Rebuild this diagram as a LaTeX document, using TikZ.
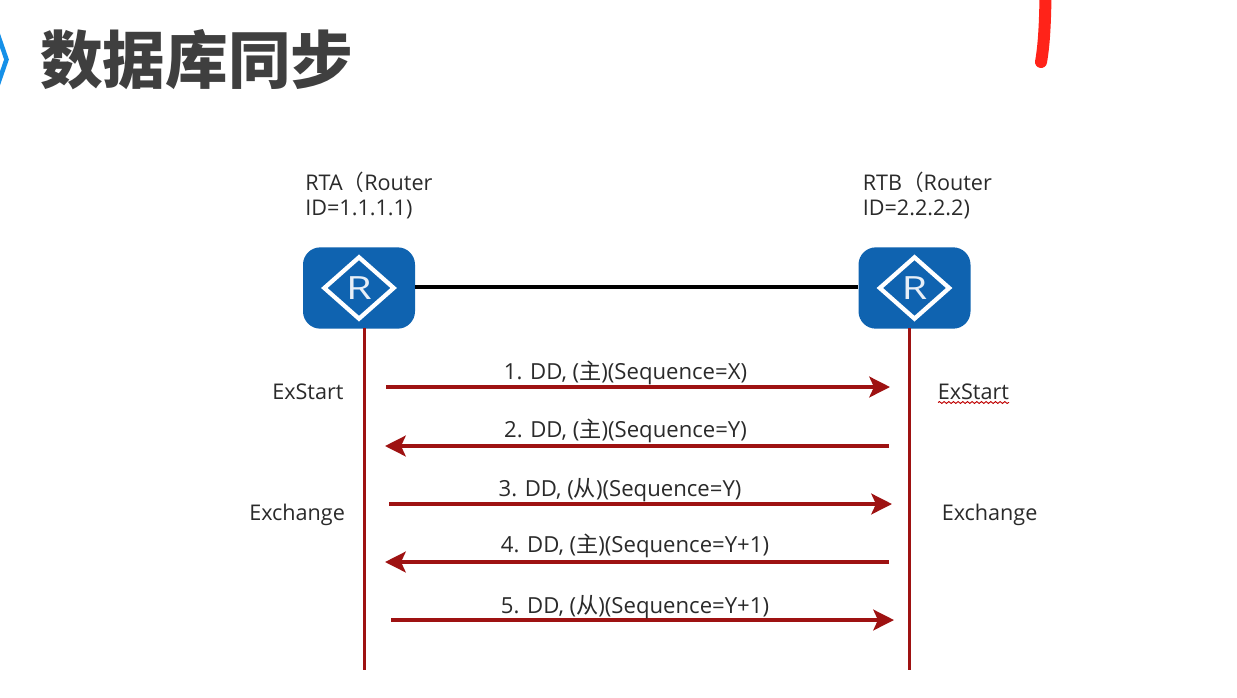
\documentclass[tikz,border=0pt]{standalone}
\usepackage{fontspec}
\setmainfont{Open Sans}
\newfontfamily\cjk{Noto Sans CJK SC}
\usetikzlibrary{arrows.meta,decorations.pathmorphing}
\definecolor{rblue}{HTML}{0F63B0}
\definecolor{dred}{HTML}{9E1212}
\definecolor{txt}{HTML}{2A2A2A}
\tikzset{
  router/.style={draw=none,fill=rblue,rounded corners=13,minimum width=84,minimum height=61,inner sep=0},
  label/.style={inner sep=0,text=txt,font=\fontsize{16.2}{19}\selectfont,anchor=base west,align=left},
  msg/.style={inner sep=0,text=txt,font=\fontsize{16.6}{18}\selectfont,anchor=base},
  life/.style={draw=dred,line width=2.9},
  msgarrow/.style={draw=dred,line width=2.8,-{Stealth[length=15.5,width=15.5,inset=3.5]}},
  link/.style={draw=black,line width=2.8},
}
\newcommand{\routericon}[1]{%
  \draw[white,line width=3.2] ([xshift=-26]#1.center) -- ([yshift=23]#1.center) -- ([xshift=26]#1.center) -- ([yshift=-23]#1.center) -- cycle;
  \node[inner sep=0,text=white!90!rblue,font=\fontsize{24}{24}\selectfont,xscale=1.3,transform shape] at (#1.center) {R};
}
\begin{document}
\begin{tikzpicture}[x=0.75pt,y=-0.75pt]
\useasboundingbox (0,0) rectangle (1237,697);
\fill[white] (0,0) rectangle (1237,697);
% title
\draw[draw={rgb,255:red,21;green,144;blue,232},line width=3.4,line join=miter] (-3,32) -- (6.5,59.5) -- (-3,87);
\node[inner sep=0,anchor=west,text=txt!90!white,font=\cjk\bfseries\fontsize{47}{50}\selectfont] (title) at (40,60) {数据库同步};
% red pen stroke
\draw[draw={rgb,255:red,255;green,35;blue,25},line width=9,line cap=round] (1045.5,-3) .. controls (1045,25) and (1044,45) .. (1041,62);
% routers
\node[router] (rta) at (359,288) {};
\node[router] (rtb) at (914.5,288) {};
\routericon{rta}
\routericon{rtb}
\draw[link] ([yshift=1]rta.east) -- ([yshift=1]rtb.west);
\node[label] (la) at (305,215.5) {RTA{\cjk （}Router\\ID=1.1.1.1)};
\node[label] (lb) at (862.5,215.5) {RTB{\cjk （}Router\\ID=2.2.2.2)};
% lifelines
\coordinate (aend) at (364.5,670);
\coordinate (bend) at (909.5,670);
\coordinate (atop) at (364.5,328);
\coordinate (btop) at (909.5,328);
\draw[life] (atop) -- (aend);
\draw[life] (btop) -- (bend);
% arrows
\coordinate (a1) at (386,387); \coordinate (b1) at (890,387);
\coordinate (b2) at (889,446); \coordinate (a2) at (385,446);
\coordinate (a3) at (389,504); \coordinate (b3) at (892,504);
\coordinate (b4) at (889,562); \coordinate (a4) at (385,562);
\coordinate (a5) at (391,620); \coordinate (b5) at (894,620);
\draw[msgarrow] (a1) -- (b1);
\draw[msgarrow] (b2) -- (a2);
\draw[msgarrow] (a3) -- (b3);
\draw[msgarrow] (b4) -- (a4);
\draw[msgarrow] (a5) -- (b5);
% message labels
\node[msg] (m1) at (625.5,379.5) {1. DD, ({\cjk 主})(Sequence=X)};
\node[msg] (m2) at (625.5,437.5) {2. DD, ({\cjk 主})(Sequence=Y)};
\node[msg] (m3) at (620,496.5) {3. DD, ({\cjk 从})(Sequence=Y)};
\node[msg] (m4) at (635,552.5) {4. DD, ({\cjk 主})(Sequence=Y+1)};
\node[msg] (m5) at (635,613.5) {5. DD, ({\cjk 从})(Sequence=Y+1)};
% state labels
\node[label] (s1) at (272,399) {ExStart};
\node[label] (s2) at (937.5,399) {ExStart};
\node[label] (s3) at (249,520.5) {Exchange};
\node[label] (s4) at (941.5,520.5) {Exchange};
\coordinate (w1) at (938,402.5); \coordinate (w2) at (1009,402.5);
\draw[draw=red!75!black,line width=0.7,decorate,decoration={snake,amplitude=0.7,segment length=3.5}] (w1) -- (w2);
\end{tikzpicture}
\end{document}
